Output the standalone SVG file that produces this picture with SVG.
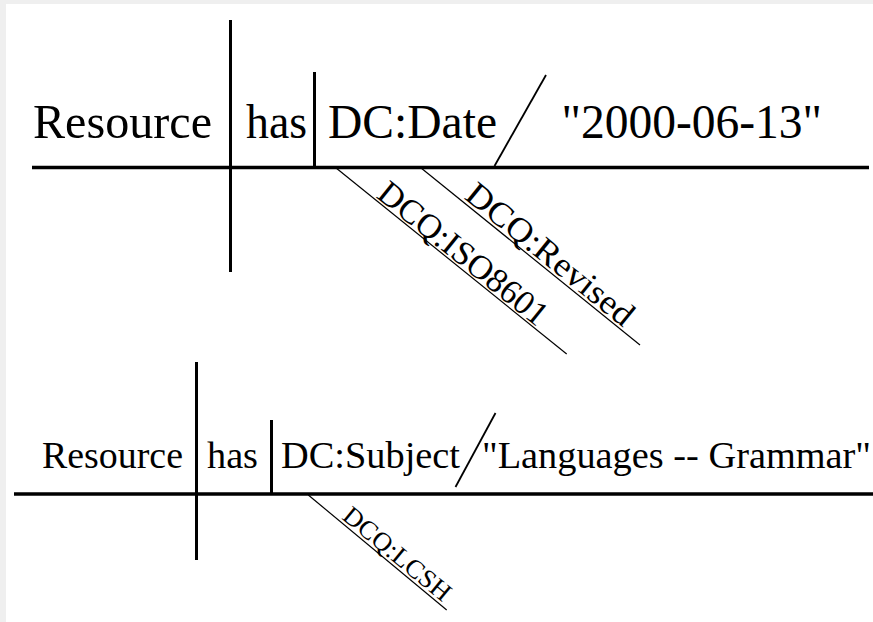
<svg xmlns="http://www.w3.org/2000/svg" width="873" height="622" viewBox="0 0 873 622">
  <style>
    .word { font-family: "Liberation Serif", "Times New Roman", serif; fill: #000; }
    .big { font-size: 48px; }
    .mid { font-size: 38px; }
    .qual { font-size: 34px; }
    .qual-sm { font-size: 26px; }
    .stem { stroke: #000; stroke-width: 3; fill: none; }
    .base { stroke: #000; stroke-width: 3.5; fill: none; }
    .slash { stroke: #000; stroke-width: 1.8; fill: none; }
    .mod { stroke: #000; stroke-width: 1.2; fill: none; }
  </style>

  <!-- page frame -->
  <rect x="0" y="0" width="873" height="622" fill="#efefef"/>
  <rect x="6" y="4" width="867" height="618" fill="#ffffff"/>

  <!-- sentence lines -->
  <g id="connectors">
    <!-- DC:Date sentence -->
    <line class="base" x1="32" y1="167.5" x2="869" y2="167.5"/>
    <line class="stem" x1="230.5" y1="20" x2="230.5" y2="272"/>
    <line class="stem" x1="314.5" y1="72" x2="314.5" y2="167.5"/>
    <line class="slash" x1="494.5" y1="166" x2="546" y2="75"/>
    <line class="mod" x1="336.7" y1="168.5" x2="566.7" y2="354"/>
    <line class="mod" x1="421.7" y1="168.5" x2="640" y2="345"/>

    <!-- DC:Subject sentence -->
    <line class="base" x1="14" y1="494" x2="873" y2="494"/>
    <line class="stem" x1="196.5" y1="362" x2="196.5" y2="560"/>
    <line class="stem" x1="271.5" y1="420" x2="271.5" y2="494"/>
    <line class="slash" x1="455.5" y1="487" x2="495.5" y2="413"/>
    <line class="mod" x1="308.3" y1="495" x2="446.7" y2="610"/>
  </g>

  <!-- DC:Date sentence words -->
  <g id="date-resource"><text class="word big" x="33" y="138" textLength="179" lengthAdjust="spacingAndGlyphs">Resource</text></g>
  <g id="date-has"><text class="word big" x="246" y="138" textLength="61" lengthAdjust="spacingAndGlyphs">has</text></g>
  <g id="date-element"><text class="word big" x="328" y="138" textLength="169" lengthAdjust="spacingAndGlyphs">DC:Date</text></g>
  <g id="date-value"><text class="word big" x="561.5" y="138" textLength="260.5" lengthAdjust="spacingAndGlyphs">"2000-06-13"</text></g>
  <g id="date-iso8601"><text class="word qual" transform="translate(375.3,196.8) rotate(38.9)" x="0" y="0" textLength="208" lengthAdjust="spacingAndGlyphs">DCQ:ISO8601</text></g>
  <g id="date-revised"><text class="word qual" transform="translate(463.2,198.1) rotate(39)" x="0" y="0" textLength="206" lengthAdjust="spacingAndGlyphs">DCQ:Revised</text></g>

  <!-- DC:Subject sentence words -->
  <g id="subject-resource"><text class="word mid" x="42" y="468" textLength="141" lengthAdjust="spacingAndGlyphs">Resource</text></g>
  <g id="subject-has"><text class="word mid" x="207" y="468" textLength="51" lengthAdjust="spacingAndGlyphs">has</text></g>
  <g id="subject-element"><text class="word mid" x="281" y="468" textLength="179" lengthAdjust="spacingAndGlyphs">DC:Subject</text></g>
  <g id="subject-value"><text class="word mid" x="482" y="468" textLength="389" lengthAdjust="spacingAndGlyphs">"Languages -- Grammar"</text></g>
  <g id="subject-lcsh"><text class="word qual-sm" transform="translate(341,518.3) rotate(39.7)" x="0" y="0" textLength="132" lengthAdjust="spacingAndGlyphs">DCQ:LCSH</text></g>
</svg>
